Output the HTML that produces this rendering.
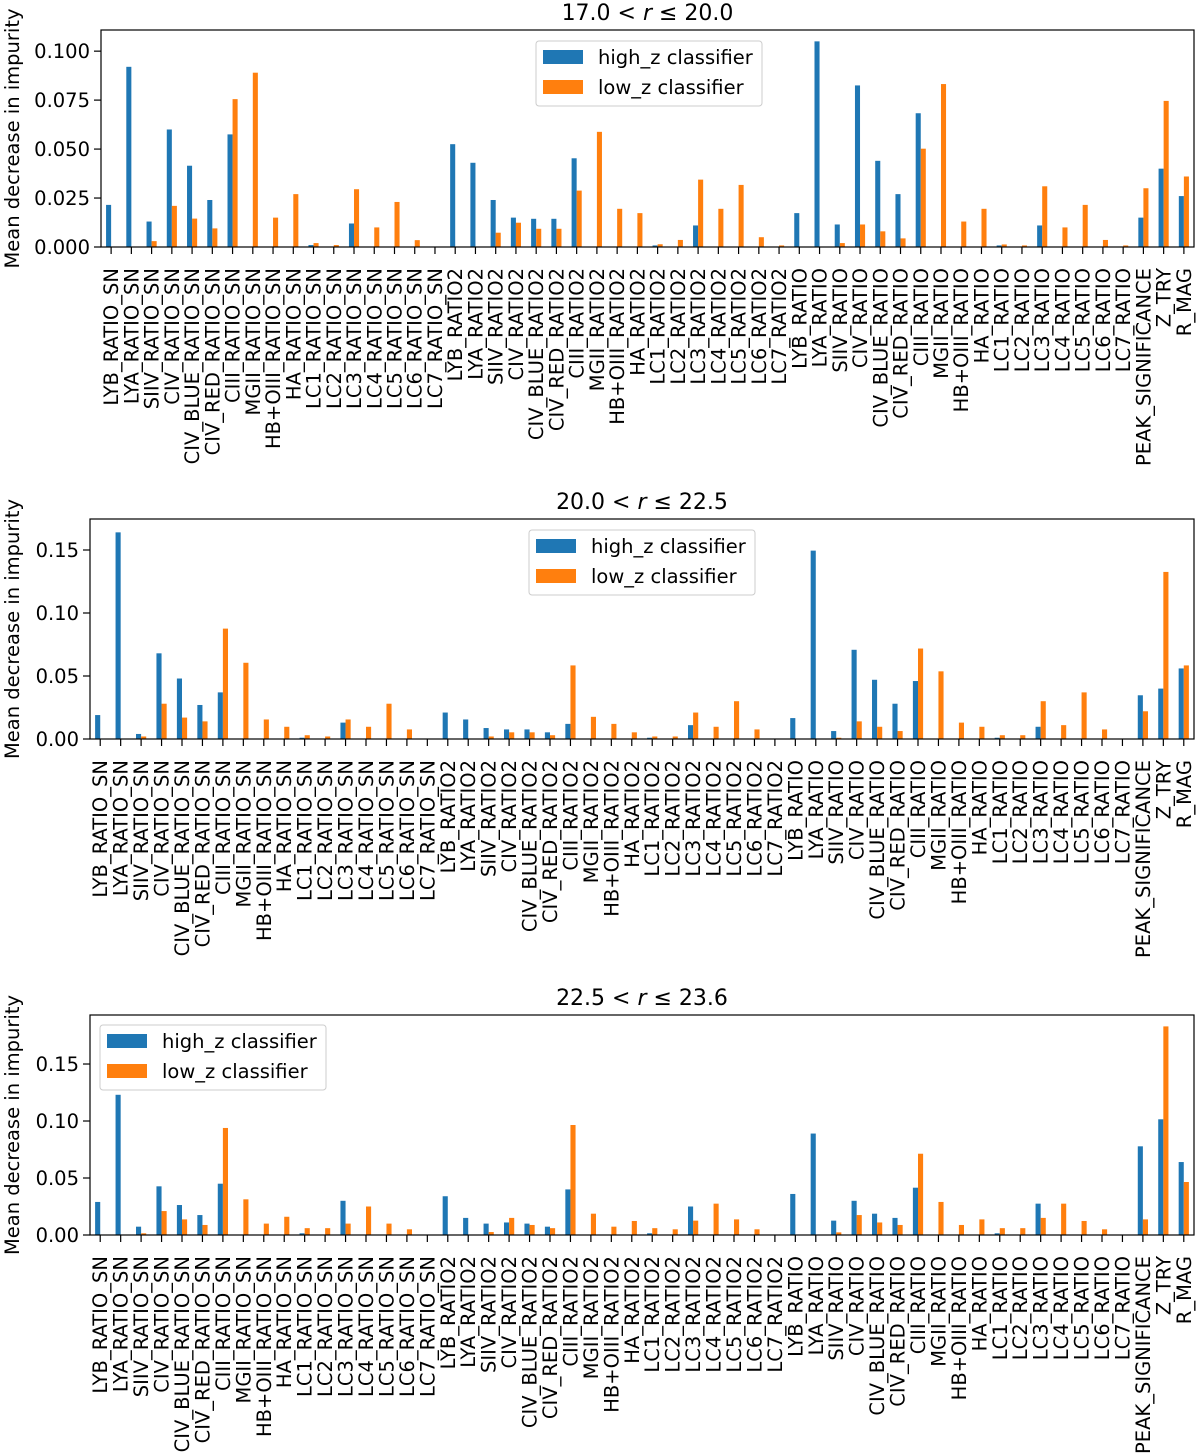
<!DOCTYPE html>
<html><head><meta charset="utf-8"><style>
body{margin:0;background:#fff;}
svg{display:block;font-family:"DejaVu Sans","Liberation Sans",sans-serif;}
</style></head><body>
<svg id="chart" width="1200" height="1454" viewBox="0 0 1200 1454" xmlns="http://www.w3.org/2000/svg"></svg>
<script>
const categories = ["LYB_RATIO_SN","LYA_RATIO_SN","SIIV_RATIO_SN","CIV_RATIO_SN","CIV_BLUE_RATIO_SN","CIV_RED_RATIO_SN","CIII_RATIO_SN","MGII_RATIO_SN","HB+OIII_RATIO_SN","HA_RATIO_SN","LC1_RATIO_SN","LC2_RATIO_SN","LC3_RATIO_SN","LC4_RATIO_SN","LC5_RATIO_SN","LC6_RATIO_SN","LC7_RATIO_SN",
"LYB_RATIO2","LYA_RATIO2","SIIV_RATIO2","CIV_RATIO2","CIV_BLUE_RATIO2","CIV_RED_RATIO2","CIII_RATIO2","MGII_RATIO2","HB+OIII_RATIO2","HA_RATIO2","LC1_RATIO2","LC2_RATIO2","LC3_RATIO2","LC4_RATIO2","LC5_RATIO2","LC6_RATIO2","LC7_RATIO2",
"LYB_RATIO","LYA_RATIO","SIIV_RATIO","CIV_RATIO","CIV_BLUE_RATIO","CIV_RED_RATIO","CIII_RATIO","MGII_RATIO","HB+OIII_RATIO","HA_RATIO","LC1_RATIO","LC2_RATIO","LC3_RATIO","LC4_RATIO","LC5_RATIO","LC6_RATIO","LC7_RATIO",
"PEAK_SIGNIFICANCE","Z_TRY","R_MAG"];

const high1 = [0.0215,0.092,0.013,0.060,0.0415,0.024,0.0575,0,0,0,0.001,0,0.012,0,0,0,0,
0.0525,0.043,0.024,0.015,0.0144,0.0144,0.0453,0,0,0,0.0008,0,0.011,0,0,0,0,
0.0173,0.105,0.0115,0.0825,0.044,0.027,0.0683,0,0,0,0.0008,0,0.011,0,0,0,0,
0.015,0.040,0.026];
const low1 = [0,0,0.003,0.021,0.0145,0.0095,0.0755,0.089,0.015,0.027,0.002,0.001,0.0295,0.010,0.023,0.0035,0,
0,0,0.0073,0.0124,0.0093,0.0093,0.0288,0.0588,0.0195,0.0173,0.0014,0.0036,0.0344,0.0195,0.0317,0.005,0.0008,
0,0,0.002,0.0115,0.008,0.0044,0.0502,0.0832,0.013,0.0195,0.0013,0.0008,0.031,0.010,0.0215,0.0036,0.0008,
0.030,0.0746,0.036];

const high2 = [0.019,0.164,0.004,0.068,0.048,0.027,0.037,0,0,0,0.001,0,0.013,0,0,0,0,
0.021,0.0155,0.0087,0.0076,0.0076,0.0053,0.012,0,0,0,0.001,0,0.011,0,0,0,0,
0.0166,0.1495,0.0063,0.0708,0.047,0.028,0.046,0,0,0,0.001,0,0.0097,0,0,0,0,
0.0347,0.040,0.056];
const low2 = [0,0,0.002,0.028,0.017,0.014,0.0876,0.0605,0.0155,0.0097,0.003,0.002,0.0155,0.0097,0.028,0.0076,0,
0,0,0.002,0.0053,0.0053,0.003,0.0584,0.0176,0.012,0.0053,0.002,0.002,0.021,0.0097,0.030,0.0076,0,
0,0,0.001,0.014,0.0097,0.0063,0.0718,0.0537,0.013,0.0097,0.003,0.003,0.030,0.011,0.037,0.0076,0,
0.022,0.1326,0.0584];

const high3 = [0.029,0.123,0.0073,0.0427,0.0263,0.0175,0.045,0,0,0,0.0015,0,0.030,0,0,0,0,
0.034,0.015,0.010,0.011,0.010,0.0073,0.040,0,0,0,0.0015,0,0.025,0,0,0,0,
0.036,0.089,0.0126,0.030,0.0187,0.015,0.0415,0,0,0,0.0015,0,0.0275,0,0,0,0,
0.0778,0.1015,0.064];
const low3 = [0,0,0.0015,0.021,0.0137,0.0088,0.0939,0.0313,0.010,0.016,0.006,0.006,0.010,0.025,0.010,0.005,0,
0,0,0.0026,0.015,0.0088,0.006,0.0965,0.0187,0.0073,0.0123,0.006,0.005,0.0126,0.0275,0.0137,0.005,0,
0,0,0.0023,0.0175,0.011,0.0088,0.0713,0.029,0.0088,0.0137,0.006,0.006,0.015,0.0275,0.0123,0.005,0,
0.0137,0.183,0.0465];

const ticks1 = [0,0.025,0.05,0.075,0.1];
const tickLabels1 = ["0.000","0.025","0.050","0.075","0.100"];
const ticks23 = [0,0.05,0.10,0.15];
const tickLabels23 = ["0.00","0.05","0.10","0.15"];
const titles = [["17.0","20.0"],["20.0","22.5"],["22.5","23.6"]];

const NS = "http://www.w3.org/2000/svg";
const svg = document.getElementById("chart");
function mk(tag, attrs, parent, text){
  const e = document.createElementNS(NS, tag);
  for (const k in attrs) e.setAttribute(k, attrs[k]);
  if (text !== undefined) e.textContent = text;
  (parent||svg).appendChild(e);
  return e;
}
const FS = 19.5;

const panels = [
  {L:101,R:1194,T:30,B:247,ymax:0.1108,high:high1,low:low1,ticks:ticks1,labels:tickLabels1,leg:[536,41],title:titles[0]},
  {L:90,R:1194,T:519,B:739,ymax:0.1746,high:high2,low:low2,ticks:ticks23,labels:tickLabels23,leg:[529,530],title:titles[1]},
  {L:90,R:1194,T:1015,B:1235,ymax:0.193,high:high3,low:low3,ticks:ticks23,labels:tickLabels23,leg:[100,1025],title:titles[2]}
];

panels.forEach((p, pi) => {
  const g = mk("g", {});
  
  
  const n = categories.length;
  const step = (p.R - p.L) / n;
  const xc = i => p.L + step * (i + 0.5);
  const y = v => p.B - (v / p.ymax) * (p.B - p.T);
  const bw = step * 0.25;
  categories.forEach((c, i) => {
    const hv = p.high[i], lv = p.low[i];
    const b1 = mk("rect", {x: xc(i) - bw, y: y(hv), width: bw, height: Math.max(0, p.B - y(hv)), fill: "#1f77b4"}, g);
    
    
    const b2 = mk("rect", {x: xc(i), y: y(lv), width: bw, height: Math.max(0, p.B - y(lv)), fill: "#ff7f0e"}, g);
    
    
    mk("line", {x1: xc(i), x2: xc(i), y1: p.B, y2: p.B + 7, stroke: "#000", "stroke-width": 1.2}, g);
    const t = mk("text", {x: 0, y: 0, transform: `translate(${xc(i)+7},${p.B+21}) rotate(-90)`, "text-anchor": "end", "font-size": FS, fill: "#000"}, g, c);
    
    
  });
  p.ticks.forEach((v, k) => {
    mk("line", {x1: p.L - 7, x2: p.L, y1: y(v), y2: y(v), stroke: "#000", "stroke-width": 1.2}, g);
    const t = mk("text", {x: p.L - 11, y: y(v) + 7, "text-anchor": "end", "font-size": FS, fill: "#000"}, g, p.labels[k]);
    
    
  });
  const fr = mk("rect", {x: p.L, y: p.T, width: p.R - p.L, height: p.B - p.T, fill: "none", stroke: "#000", "stroke-width": 1.2}, g);
  
  
  const yl = mk("text", {x: 0, y: 0, transform: `translate(19,${(p.T + p.B) / 2}) rotate(-90)`, "text-anchor": "middle", "font-size": FS, fill: "#000"}, g, "Mean decrease in impurity");
  
  
  const tt = mk("text", {x: (p.L + p.R) / 2, y: p.T - 10, "text-anchor": "middle", "font-size": 22, fill: "#000"}, g);
  
  
  mk("tspan", {}, tt, p.title[0] + " < ");
  mk("tspan", {"font-style": "italic"}, tt, "r");
  mk("tspan", {}, tt, " ≤ " + p.title[1]);
  const lg = mk("g", {transform: `translate(${p.leg[0]},${p.leg[1]})`}, g);
  
  
  mk("rect", {x: 0, y: 0, width: 226, height: 65, rx: 3, fill: "#fff", "fill-opacity": 0.8, stroke: "#ccc"}, lg);
  const e1 = mk("g", {}, lg);
  
  
  mk("rect", {x: 7, y: 9, width: 40, height: 14, fill: "#1f77b4"}, e1);
  mk("text", {x: 62, y: 23, "font-size": FS, fill: "#000"}, e1, "high_z classifier");
  const e2 = mk("g", {}, lg);
  
  
  mk("rect", {x: 7, y: 39, width: 40, height: 14, fill: "#ff7f0e"}, e2);
  mk("text", {x: 62, y: 53, "font-size": FS, fill: "#000"}, e2, "low_z classifier");
});
</script>
</body></html>
